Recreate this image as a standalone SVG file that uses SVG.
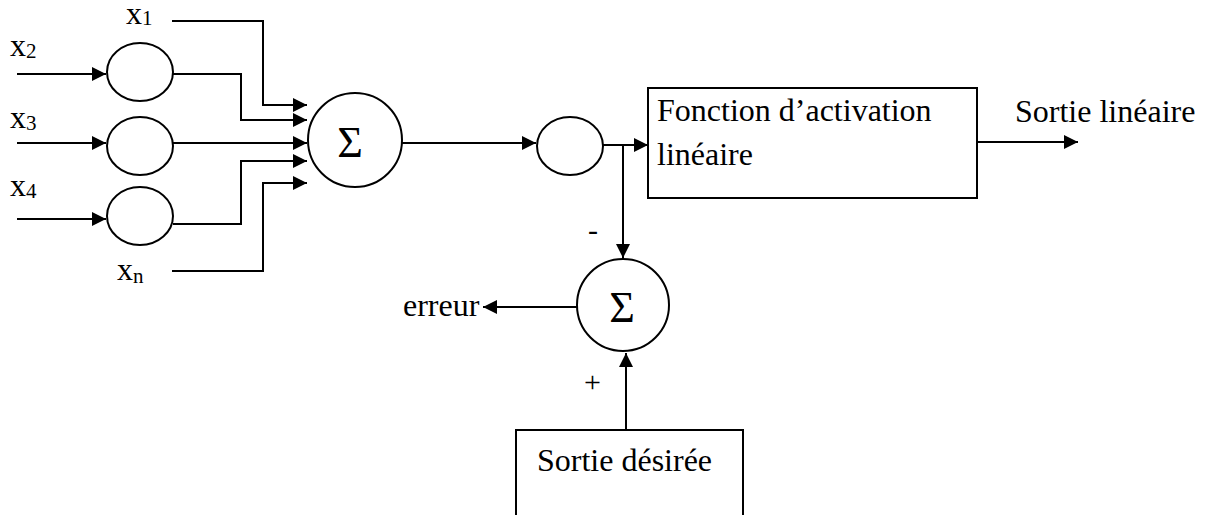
<svg xmlns="http://www.w3.org/2000/svg" width="1207" height="515" viewBox="0 0 1207 515">
<defs>
<marker id="ah" markerUnits="userSpaceOnUse" markerWidth="16" markerHeight="14" refX="14" refY="7" orient="auto">
<path d="M0,0 L14,7 L0,14 z" fill="#000"/>
</marker>
<style>
.ln{fill:none;stroke:#000;stroke-width:2}
.ar{fill:none;stroke:#000;stroke-width:2;marker-end:url(#ah)}
.sh{fill:#fff;stroke:#000;stroke-width:2}
text{font-family:"Liberation Serif","Times New Roman",serif;fill:#000}
.t{font-size:32px}
.sub{font-size:21px}
.sig{font-size:44px}
.sm{font-size:30px}
</style>
</defs>
<rect width="1207" height="515" fill="#fff"/>
<g id="connectors">
<path class="ar" d="M17,74 H106"/>
<path class="ar" d="M17,143 H106"/>
<path class="ar" d="M17,219 H106"/>
<path class="ar" d="M172,21 H263 V105 H307"/>
<path class="ar" d="M173,74 H241 V120 H307"/>
<path class="ar" d="M173,143 H307"/>
<path class="ar" d="M173,224 H241 V161 H307"/>
<path class="ar" d="M172,271 H263 V183 H307"/>
<path class="ar" d="M401,143 H536"/>
<path class="ar" d="M603,145 H648"/>
<path class="ar" d="M623,145 V258"/>
<path class="ar" d="M977,142 H1078"/>
<path class="ar" d="M577,307 H483"/>
<path class="ar" d="M626,430 V353"/>
</g>
<g id="x1"><text class="t" x="126" y="24">x<tspan class="sub" dy="1">1</tspan></text></g>
<g id="x2"><text class="t" x="10" y="56">x<tspan class="sub" dy="2">2</tspan></text></g>
<g id="x3"><text class="t" x="10" y="128">x<tspan class="sub" dy="2">3</tspan></text></g>
<g id="x4"><text class="t" x="10" y="196">x<tspan class="sub" dy="2">4</tspan></text></g>
<g id="xn"><text class="t" x="117" y="280">x<tspan class="sub" dy="3">n</tspan></text></g>
<g id="e1"><ellipse class="sh" cx="140" cy="72" rx="33" ry="29"/></g>
<g id="e2"><ellipse class="sh" cx="140" cy="146" rx="33" ry="29"/></g>
<g id="e3"><ellipse class="sh" cx="140" cy="216" rx="33" ry="29"/></g>
<g id="sum1"><circle class="sh" cx="355" cy="140" r="47"/><text class="sig" x="350" y="157" text-anchor="middle">Σ</text></g>
<g id="e4"><ellipse class="sh" cx="570" cy="146" rx="33" ry="29"/></g>
<g id="activation"><rect class="sh" x="648" y="88" width="329" height="110"/><text class="t" x="657" y="121">Fonction d’activation</text><text class="t" x="657" y="165">linéaire</text></g>
<g id="sortie-lineaire"><text class="t" x="1015" y="122">Sortie linéaire</text></g>
<g id="minus"><text class="sm" x="588" y="240">-</text></g>
<g id="sum2"><circle class="sh" cx="623" cy="305" r="46"/><text class="sig" x="622" y="322" text-anchor="middle">Σ</text></g>
<g id="erreur"><text class="t" x="403" y="316">erreur</text></g>
<g id="plus"><text class="sm" x="584" y="392">+</text></g>
<g id="sortie-desiree"><path class="sh" d="M516,520 V430 H743 V520"/><text class="t" x="537" y="471">Sortie désirée</text></g>
</svg>
